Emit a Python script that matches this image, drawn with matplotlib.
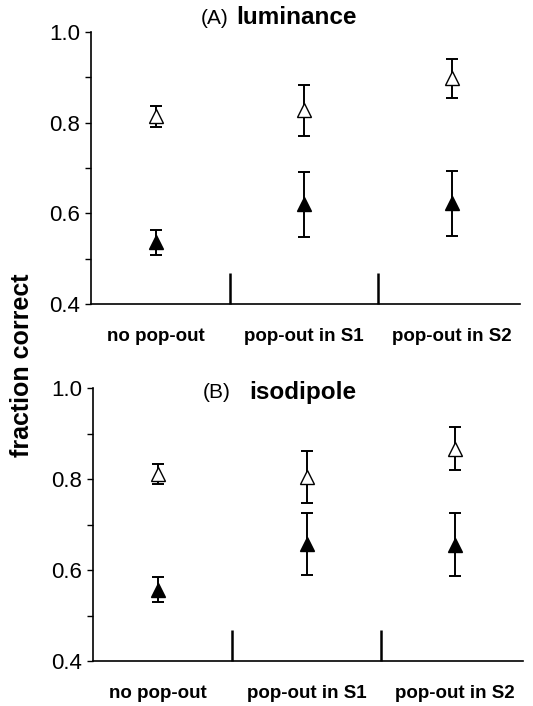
import matplotlib
matplotlib.use("Agg")
import matplotlib.pyplot as plt
import numpy as np

plt.rcParams["font.family"] = ["Liberation Sans", "DejaVu Sans"]

categories = ["no pop-out", "pop-out in S1", "pop-out in S2"]

# panel A: luminance
lum_open = [0.814, 0.827, 0.898]
lum_open_err = [0.023, 0.056, 0.043]
lum_filled = [0.536, 0.620, 0.622]
lum_filled_err = [0.028, 0.072, 0.072]

# panel B: isodipole
iso_open = [0.810, 0.804, 0.867]
iso_open_err = [0.022, 0.057, 0.047]
iso_filled = [0.557, 0.657, 0.656]
iso_filled_err = [0.028, 0.069, 0.069]

W, H = 533, 706
fig = plt.figure(figsize=(W / 100, H / 100), dpi=100)


def draw_panel(rect, open_vals, open_err, filled_vals, filled_err):
    ax = fig.add_axes(rect)
    x = np.arange(len(categories)) + 0.5
    ax.errorbar(x, open_vals, yerr=open_err, fmt="none", ecolor="black",
                elinewidth=1.4, capsize=4.5, capthick=1.4, zorder=2)
    ax.errorbar(x, filled_vals, yerr=filled_err, fmt="none", ecolor="black",
                elinewidth=1.4, capsize=4.5, capthick=1.4, zorder=2)
    ax.plot(x, open_vals, "^", ms=9.5, mfc="white", mec="black", mew=1.0,
            ls="none", zorder=3)
    ax.plot(x, filled_vals, "^", ms=10.5, mfc="black", mec="black",
            ls="none", zorder=3)
    ax.set_xlim(0.06, 2.96)
    ax.set_ylim(0.4, 1.0)
    ax.set_yticks([0.4, 0.6, 0.8, 1.0])
    ax.set_yticklabels(["0.4", "0.6", "0.8", "1.0"])
    ax.set_yticks([0.5, 0.7, 0.9], minor=True)
    ax.tick_params(axis="y", which="both", direction="out", length=4,
                   width=1, labelsize=16, pad=4)
    ax.set_xticks(x)
    ax.set_xticklabels(categories, fontsize=13.5, fontweight="bold")
    ax.tick_params(axis="x", which="major", length=0, pad=17)
    ax.set_xticks([1, 2], minor=True)
    ax.tick_params(axis="x", which="minor", direction="in", length=22,
                   width=1.8)
    for s in ("top", "right"):
        ax.spines[s].set_visible(False)
    for s in ("left", "bottom"):
        ax.spines[s].set_linewidth(1.2)
    return ax


draw_panel([91 / W, 1 - 304 / H, 429 / W, 272 / H],
           lum_open, lum_open_err, lum_filled, lum_filled_err)
draw_panel([93 / W, 1 - 661 / H, 430 / W, 273 / H],
           iso_open, iso_open_err, iso_filled, iso_filled_err)

fig.text(228 / W, 1 - 18 / H, "(A)", ha="right", va="center", fontsize=15)
fig.text(236 / W, 1 - 18 / H, "luminance", ha="left", va="center",
         fontsize=17.5, fontweight="bold")
fig.text(231 / W, 1 - 392 / H, "(B)", ha="right", va="center", fontsize=15)
fig.text(249 / W, 1 - 392 / H, "isodipole", ha="left", va="center",
         fontsize=17.5, fontweight="bold")

fig.text(22 / W, 1 - 365 / H, "fraction correct", rotation=90,
         ha="center", va="center", fontsize=18, fontweight="bold")

fig.savefig("out.png", dpi=100)
